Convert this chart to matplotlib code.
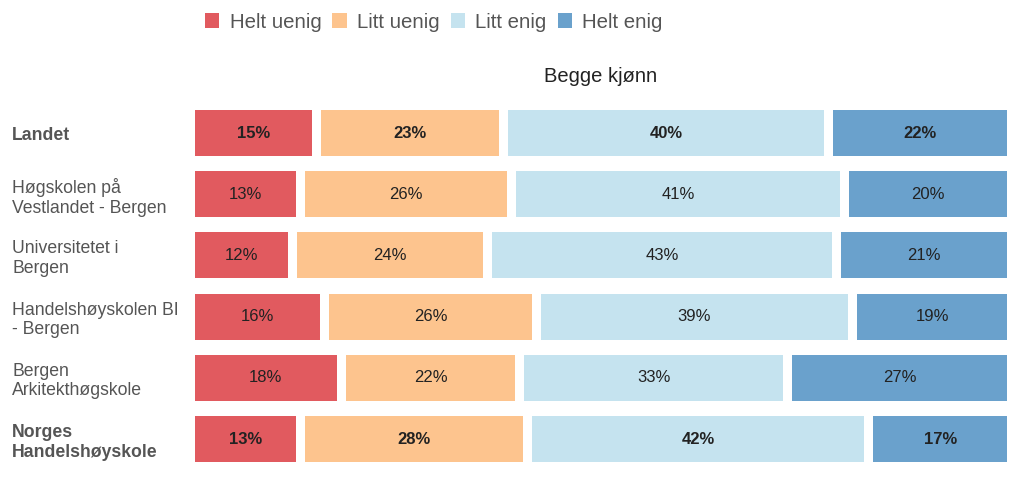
import matplotlib
matplotlib.use("Agg")
import matplotlib.pyplot as plt
from matplotlib.patches import Patch
import numpy as np

plt.rcParams['font.family'] = ['Liberation Sans', 'DejaVu Sans']

categories = ["Landet", "Høgskolen på\nVestlandet - Bergen", "Universitetet i\nBergen",
              "Handelshøyskolen BI\n- Bergen", "Bergen\nArkitekthøgskole", "Norges\nHandelshøyskole"]
bold_rows = [True, False, False, False, False, True]
series = ["Helt uenig", "Litt uenig", "Litt enig", "Helt enig"]
helt_uenig = [15, 13, 12, 16, 18, 13]
litt_uenig = [23, 26, 24, 26, 22, 28]
litt_enig = [40, 41, 43, 39, 33, 42]
helt_enig = [22, 20, 21, 19, 27, 17]
colors = ["#E15A5F", "#FDC48E", "#C5E3EF", "#6AA1CC"]
title = "Begge kjønn"

values = [helt_uenig, litt_uenig, litt_enig, helt_enig]

W, H = 1024, 495
fig = plt.figure(figsize=(W/100, H/100), dpi=100)
ax = fig.add_axes([195/W, 1-469.6/H, 812/W, 367.2/H])

n = len(categories)
y = np.arange(n)
gap = 1.1
cum = np.zeros(n)
for si, vals in enumerate(values):
    vals = np.array(vals, dtype=float)
    left = cum + (gap/2 if si > 0 else 0)
    right = cum + vals - (gap/2 if si < len(values)-1 else 0)
    ax.barh(y, right-left, left=left, height=0.75, color=colors[si], edgecolor='none')
    for i in range(n):
        ax.text((left[i]+right[i])/2, y[i], f"{int(vals[i])}%", ha='center', va='center',
                fontsize=12, color='#222222', fontweight='bold' if bold_rows[i] else 'normal')
    cum += vals

ax.set_xlim(0, 100)
ax.set_ylim(n-0.5, -0.5)
ax.set_yticks(y)
ax.set_yticklabels(categories, ha='left', fontsize=12.7, color='#555555', linespacing=1.2)
for lbl, b in zip(ax.get_yticklabels(), bold_rows):
    if b:
        lbl.set_fontweight('bold')
ax.tick_params(axis='y', length=0, pad=(195-12)*72/100)
ax.set_xticks([])
for s in ax.spines.values():
    s.set_visible(False)

fig.text(601/W, 1-77/H, title, ha='center', va='center', fontsize=14.5, color='#222222')

handles = [Patch(facecolor=c, edgecolor='none') for c in colors]
fig.legend(handles, series, loc='center left', bbox_to_anchor=(205/W, 1-22/H), ncol=4,
           frameon=False, fontsize=14.7, handlelength=0.7, handleheight=0.7,
           handletextpad=0.5, columnspacing=0.55, borderpad=0, borderaxespad=0,
           labelcolor='#555555')

fig.savefig("out.png", dpi=100)
